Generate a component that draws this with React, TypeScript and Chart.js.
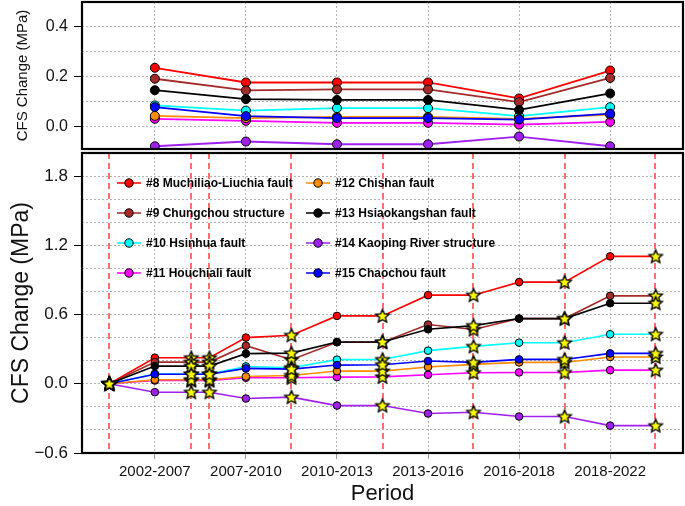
import { useEffect, useRef } from 'react';
import { Chart, registerables } from 'chart.js';

Chart.register(...registerables);

// x positions: periods sit on integer slots, events (stars) between them
const periods = ['2002-2007', '2007-2010', '2010-2013', '2013-2016', '2016-2018', '2018-2022'];
const periodX = [1, 2, 3, 4, 5, 6];
const eventX = [0.5, 1.4, 1.6, 2.5, 3.5, 4.5, 5.5, 6.5];
const timelineX = [0.5, 1, 1.4, 1.6, 2, 2.5, 3, 3.5, 4, 4.5, 5, 5.5, 6, 6.5];

const faultNames = [
  '#8 Muchiliao-Liuchia fault',
  '#9 Chungchou structure',
  '#10 Hsinhua fault',
  '#11 Houchiali fault',
  '#12 Chishan fault',
  '#13 Hsiaokangshan fault',
  '#14 Kaoping River structure',
  '#15 Chaochou fault',
];
const faultColors = ['#ff0000', '#a52a2a', '#00ffff', '#ff00ff', '#ff8c00', '#000000', '#a020f0', '#0000ff'];

// CFS change per period (top panel)
const periodF8 = [0.236, 0.177, 0.177, 0.177, 0.113, 0.225];
const periodF9 = [0.192, 0.145, 0.149, 0.149, 0.098, 0.195];
const periodF10 = [0.085, 0.064, 0.074, 0.074, 0.042, 0.078];
const periodF11 = [0.031, 0.023, 0.015, 0.015, 0.008, 0.019];
const periodF12 = [0.043, 0.034, 0.039, 0.039, 0.031, 0.048];
const periodF13 = [0.146, 0.11, 0.107, 0.107, 0.067, 0.133];
const periodF14 = [-0.079, -0.06, -0.071, -0.071, -0.04, -0.079];
const periodF15 = [0.078, 0.042, 0.034, 0.034, 0.028, 0.052];

// cumulative CFS change along the timeline (bottom panel)
const cumF8 = [0, 0.226, 0.226, 0.226, 0.4, 0.42, 0.588, 0.588, 0.768, 0.768, 0.881, 0.881, 1.104, 1.104];
const cumF9 = [0, 0.188, 0.188, 0.188, 0.33, 0.209, 0.36, 0.36, 0.513, 0.47, 0.565, 0.565, 0.762, 0.762];
const cumF10 = [0, 0.085, 0.085, 0.085, 0.15, 0.139, 0.209, 0.21, 0.287, 0.324, 0.356, 0.356, 0.429, 0.429];
const cumF11 = [0, 0.028, 0.028, 0.028, 0.052, 0.052, 0.058, 0.06, 0.078, 0.096, 0.098, 0.098, 0.118, 0.118];
const cumF12 = [0, 0.035, 0.035, 0.035, 0.063, 0.072, 0.11, 0.11, 0.145, 0.168, 0.185, 0.185, 0.232, 0.232];
const cumF13 = [0, 0.153, 0.153, 0.153, 0.261, 0.266, 0.362, 0.362, 0.472, 0.504, 0.565, 0.565, 0.698, 0.698];
const cumF14 = [0, -0.073, -0.073, -0.073, -0.128, -0.116, -0.189, -0.189, -0.258, -0.247, -0.284, -0.284, -0.363, -0.363];
const cumF15 = [0, 0.083, 0.083, 0.083, 0.133, 0.127, 0.162, 0.165, 0.197, 0.185, 0.211, 0.211, 0.263, 0.263];

const periodSeries = [periodF8, periodF9, periodF10, periodF11, periodF12, periodF13, periodF14, periodF15];
const cumSeries = [cumF8, cumF9, cumF10, cumF11, cumF12, cumF13, cumF14, cumF15];

// y ticks
const topGridTicks = [0, 0.1, 0.2, 0.3, 0.4];
const topLabelTicks = [0, 0.2, 0.4];
const topLabels = ['0.0', '0.2', '0.4'];
const bottomGridTicks = [-0.6, -0.4, -0.2, 0, 0.2, 0.4, 0.6, 0.8, 1.0, 1.2, 1.4, 1.6, 1.8];
const bottomLabelTicks = [-0.6, 0, 0.6, 1.2, 1.8];
const bottomLabels = ['\u22120.6', '0.0', '0.6', '1.2', '1.8'];

const FONT = '"Liberation Sans", Arial, Helvetica, sans-serif';
const GRID = '#b4b4b4';

const near = (a: number, b: number) => Math.abs(a - b) < 1e-6;
const labelIndex = (list: number[], v: number) => list.findIndex(t => near(t, v));
const isEvent = (x: number) => eventX.some(e => near(e, x));

function makeStar(r: number): HTMLCanvasElement {
  const size = Math.ceil(r * 2 + 4);
  const c = document.createElement('canvas');
  c.width = size;
  c.height = size;
  const g = c.getContext('2d')!;
  g.translate(size / 2, size / 2 + 0.5);
  g.beginPath();
  for (let i = 0; i < 10; i++) {
    const rad = i % 2 === 0 ? r : r * 0.46;
    const a = -Math.PI / 2 + (i * Math.PI) / 5;
    g.lineTo(rad * Math.cos(a), rad * Math.sin(a));
  }
  g.closePath();
  g.fillStyle = '#ffff00';
  g.fill();
  g.lineWidth = 1.4;
  g.lineJoin = 'miter';
  g.strokeStyle = '#000';
  g.stroke();
  return c;
}

// no automatic label padding: the plot area is pinned by layout.padding
const zeroPadding = (scale: any) => {
  scale.paddingTop = 0;
  scale.paddingBottom = 0;
  scale.paddingLeft = 0;
  scale.paddingRight = 0;
};

// black frame around the plot area
const framePlugin = {
  id: 'frame',
  afterDraw(chart: any) {
    const { ctx, chartArea: a } = chart;
    ctx.save();
    ctx.lineWidth = 2.2;
    ctx.strokeStyle = '#000';
    ctx.strokeRect(a.left, a.top, a.right - a.left, a.bottom - a.top);
    ctx.restore();
  },
};

// red dashed event lines in the bottom panel
const eventLinesPlugin = {
  id: 'eventLines',
  beforeDatasetsDraw(chart: any) {
    const { ctx, chartArea: a, scales } = chart;
    ctx.save();
    ctx.strokeStyle = '#ff4a4a';
    ctx.lineWidth = 1.6;
    ctx.setLineDash([6, 4]);
    eventX.forEach(x => {
      // snap to the centre of a 2px pair so the thin line keeps its hue
      const px = 2 * Math.floor(scales.x.getPixelForValue(x) / 2) + 1;
      ctx.beginPath();
      ctx.moveTo(px, a.top);
      ctx.lineTo(px, a.bottom);
      ctx.stroke();
    });
    ctx.restore();
  },
};

// legend drawn inside the plot area, two columns
const legendPlugin = {
  id: 'insideLegend',
  afterDraw(chart: any) {
    const { ctx } = chart;
    const cols = [117, 306];
    const rows = [32, 62, 92, 122];
    ctx.save();
    ctx.font = `bold 12px ${FONT}`;
    ctx.textBaseline = 'middle';
    ctx.textAlign = 'left';
    faultNames.forEach((name, i) => {
      const x0 = cols[Math.floor(i / 4)];
      const y = rows[i % 4];
      ctx.strokeStyle = faultColors[i];
      ctx.lineWidth = 1.5;
      ctx.beginPath();
      ctx.moveTo(x0, y);
      ctx.lineTo(x0 + 24, y);
      ctx.stroke();
      ctx.beginPath();
      ctx.arc(x0 + 12, y, 4.2, 0, Math.PI * 2);
      ctx.fillStyle = faultColors[i];
      ctx.fill();
      ctx.lineWidth = 1;
      ctx.strokeStyle = '#000';
      ctx.stroke();
      ctx.fillStyle = '#000';
      ctx.fillText(name, x0 + 29, y + 0.5);
    });
    ctx.restore();
  },
};

export default function App() {
  const topRef = useRef<HTMLCanvasElement>(null);
  const bottomRef = useRef<HTMLCanvasElement>(null);

  useEffect(() => {
    if (!topRef.current || !bottomRef.current) return;
    document.body.style.margin = '0';
    Chart.defaults.font.family = FONT;
    Chart.defaults.color = '#111';

    const star = makeStar(7);

    const xScale = (withLabels: boolean) => ({
      type: 'linear' as const,
      min: 0.2,
      max: 6.8,
      afterBuildTicks: (scale: any) => {
        scale.ticks = periodX.map(v => ({ value: v }));
      },
      afterFit: (scale: any) => {
        scale.height = withLabels ? 53 : 0;
        zeroPadding(scale);
      },
      grid: {
        color: GRID,
        lineWidth: 1,
        drawTicks: withLabels,
        tickLength: 6,
        tickColor: '#999',
      },
      border: { display: false, dash: [2, 2] },
      ticks: {
        display: withLabels,
        padding: 4,
        font: { size: 15 },
        color: '#111',
        maxRotation: 0,
        callback: (v: any) => {
          const i = labelIndex(periodX, Number(v));
          return i >= 0 ? periods[i] : '';
        },
      },
      title: withLabels
        ? {
            display: true,
            text: 'Period',
            font: { size: 22, lineHeight: 1 },
            color: '#111',
            padding: { top: 0, bottom: 1 },
          }
        : { display: false },
    });

    const yScale = (
      min: number,
      max: number,
      grid: number[],
      labelTicks: number[],
      labels: string[],
      tickSize: number,
      titleSize: number,
      titlePad: number
    ) => ({
      type: 'linear' as const,
      min,
      max,
      afterBuildTicks: (scale: any) => {
        scale.ticks = grid.map(v => ({ value: v }));
      },
      afterFit: (scale: any) => {
        scale.width = 82;
        zeroPadding(scale);
      },
      grid: {
        color: GRID,
        lineWidth: 1,
        tickLength: 8,
        tickColor: (c: any) => (labelIndex(labelTicks, c.tick.value) >= 0 ? '#000' : 'rgba(0,0,0,0)'),
      },
      border: { display: false, dash: [2, 2] },
      ticks: {
        padding: 6,
        font: { size: tickSize },
        color: '#111',
        callback: (v: any) => {
          const i = labelIndex(labelTicks, Number(v));
          return i >= 0 ? labels[i] : '';
        },
      },
      title: {
        display: true,
        text: 'CFS Change (MPa)',
        font: { size: titleSize },
        color: '#111',
        padding: { top: titlePad, bottom: 0 },
      },
    });

    const topChart = new Chart(topRef.current, {
      type: 'line',
      data: {
        datasets: periodSeries.map((vals, i) => ({
          label: faultNames[i],
          data: periodX.map((x, k) => ({ x, y: vals[k] })),
          borderColor: faultColors[i],
          backgroundColor: faultColors[i],
          pointBackgroundColor: faultColors[i],
          pointBorderColor: '#000',
          pointBorderWidth: 1,
          pointRadius: 4.5,
          borderWidth: 1.8,
          order: -i,
        })),
      },
      options: {
        responsive: false,
        animation: false,
        layout: { autoPadding: false, padding: { top: 2, right: 2, bottom: 2, left: 0 } },
        plugins: { legend: { display: false }, tooltip: { enabled: false } },
        scales: {
          x: xScale(false),
          y: yScale(-0.09, 0.5, topGridTicks, topLabelTicks, topLabels, 16, 15, 14),
        },
      },
      plugins: [framePlugin],
    });

    const lineSets = cumSeries.map((vals, i) => ({
      label: faultNames[i],
      data: timelineX.map((x, k) => ({ x, y: vals[k] })),
      borderColor: faultColors[i],
      backgroundColor: faultColors[i],
      pointBackgroundColor: faultColors[i],
      pointBorderColor: '#000',
      pointBorderWidth: 1,
      pointRadius: timelineX.map(x => (isEvent(x) ? 0 : 3.8)),
      borderWidth: 1.6,
      order: -i,
    }));
    const starSets = cumSeries.map((vals, i) => ({
      label: faultNames[i] + ' events',
      data: timelineX.map((x, k) => ({ x, y: vals[k] })).filter(p => isEvent(p.x)),
      showLine: false,
      pointStyle: star,
      pointRadius: 7,
      borderColor: '#000',
      backgroundColor: '#ffff00',
      order: -100 - i,
    }));

    const bottomChart = new Chart(bottomRef.current, {
      type: 'line',
      data: { datasets: [...lineSets, ...starSets] as any },
      options: {
        responsive: false,
        animation: false,
        layout: { autoPadding: false, padding: { top: 2, right: 2, bottom: 0, left: 0 } },
        plugins: { legend: { display: false }, tooltip: { enabled: false } },
        scales: {
          x: xScale(true),
          y: yScale(-0.6, 2.0, bottomGridTicks, bottomLabelTicks, bottomLabels, 17, 23, 8),
        },
      },
      plugins: [eventLinesPlugin, framePlugin, legendPlugin],
    });

    return () => {
      topChart.destroy();
      bottomChart.destroy();
    };
  }, []);

  return (
    <div style={{ position: 'fixed', left: 0, top: 0, width: 685, height: 506, background: '#fff' }}>
      <canvas ref={topRef} width={685} height={151} style={{ position: 'absolute', left: 0, top: 0 }} />
      <canvas ref={bottomRef} width={685} height={355} style={{ position: 'absolute', left: 0, top: 151 }} />
    </div>
  );
}
